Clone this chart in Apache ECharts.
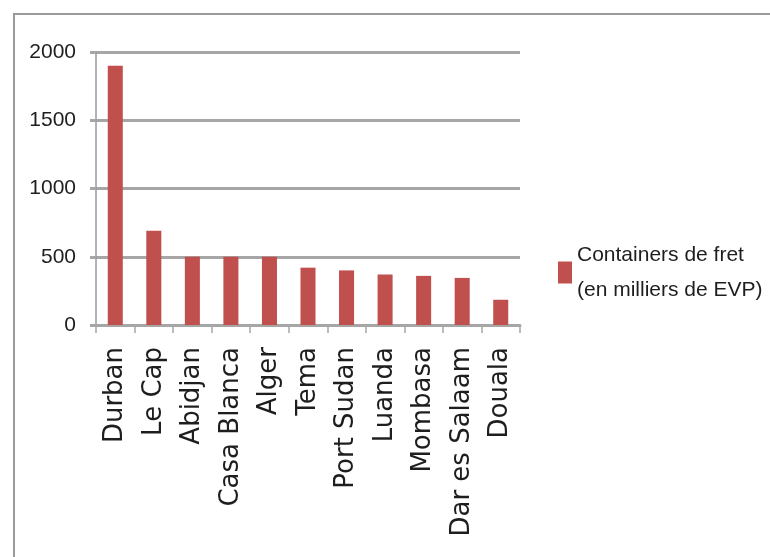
<!DOCTYPE html>
<html>
<head>
<meta charset="utf-8">
<script src="https://cdn.jsdelivr.net/npm/echarts@6/dist/echarts.min.js"></script>
<style>
html,body{margin:0;padding:0;background:#fff;}
#chart{width:770px;height:557px;}
</style>
</head>
<body>
<div id="chart"></div>
<script>
const categories = ['Durban','Le Cap','Abidjan','Casa Blanca','Alger','Tema','Port Sudan','Luanda','Mombasa','Dar es Salaam','Douala'];
const values = [1900, 690, 500, 500, 500, 420, 400, 370, 360, 345, 185];
const seriesName = 'Containers de fret\n(en milliers de EVP)';
const yTicks = [0, 500, 1000, 1500, 2000];

const narrowFont = '"DejaVu Sans Condensed", "Liberation Sans Narrow", "Liberation Sans", sans-serif';

const chart = echarts.init(document.getElementById('chart'), null, {renderer: 'canvas'});
chart.setOption({
  animation: false,
  backgroundColor: '#ffffff',
  graphic: [{
    type: 'rect',
    shape: {x: 14, y: 14, width: 800, height: 600},
    style: {fill: 'none', stroke: '#9a9a9a', lineWidth: 2},
    silent: true,
    z: -1
  }],
  grid: {left: 96, right: 250, top: 52, bottom: 232, containLabel: false},
  legend: {
    show: true,
    left: 558,
    top: 220,
    padding: 0,
    orient: 'vertical',
    itemWidth: 14,
    itemHeight: 22,
    itemGap: 4,
    icon: 'rect',
    data: [seriesName],
    textStyle: {
      fontFamily: '"Liberation Sans", Arial, sans-serif',
      fontSize: 21,
      color: '#1e1e1e',
      lineHeight: 35,
      padding: [35, 0, 0, 0]
    }
  },
  xAxis: {
    type: 'category',
    data: categories,
    axisLine: {show: true, lineStyle: {color: '#a6a6a6', width: 3}},
    axisTick: {show: true, alignWithLabel: false, length: 8, lineStyle: {color: '#a6a6a6', width: 1.5}},
    axisLabel: {
      rotate: 90,
      interval: 0,
      margin: 22,
      fontFamily: '"DejaVu Sans", Verdana, sans-serif',
      fontSize: 26,
      color: '#1e1e1e'
    },
    splitLine: {show: false}
  },
  yAxis: {
    type: 'value',
    min: yTicks[0],
    max: yTicks[yTicks.length - 1],
    interval: 500,
    axisLine: {show: true, lineStyle: {color: '#9a9a9a', width: 1.5}},
    axisTick: {show: true, length: 6, lineStyle: {color: '#a6a6a6', width: 3}},
    axisLabel: {
      margin: 20,
      fontFamily: '"Liberation Sans", Arial, sans-serif',
      fontSize: 21,
      color: '#1e1e1e',
      formatter: function (v) { return String(v); }
    },
    splitLine: {show: true, lineStyle: {color: '#a6a6a6', width: 3}}
  },
  series: [{
    name: seriesName,
    type: 'bar',
    data: values,
    barWidth: '39%',
    itemStyle: {color: '#c0504d'}
  }]
});
</script>
</body>
</html>
